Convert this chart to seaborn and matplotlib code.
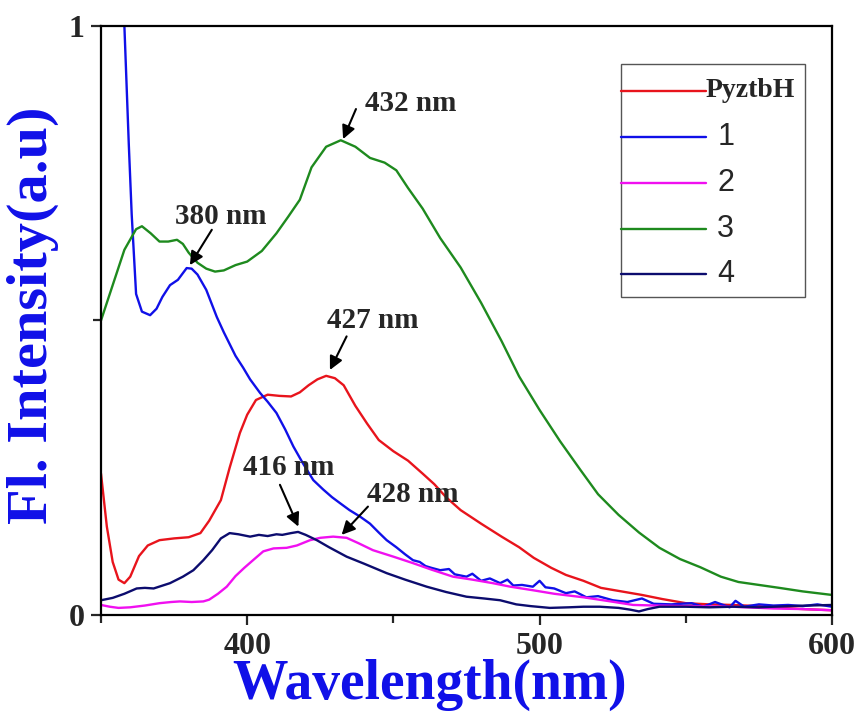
import numpy as np
import pandas as pd
import matplotlib
matplotlib.use("Agg")
import matplotlib.pyplot as plt
import seaborn as sns
from matplotlib.patches import Rectangle

# ---------------- data ----------------
labels = ["PyztbH", "1", "2", "3", "4"]
colors = ["#e8141c", "#1010e8", "#f010f0", "#1e8a1e", "#0c0c6e"]

w_pyz = [350, 352, 354, 356, 358, 360, 363, 366, 370, 375, 380, 384, 387, 391, 394, 397.5, 400, 403, 407,
         411, 415, 418, 421, 424, 427, 430, 433, 437, 441, 445, 450, 455, 460, 464, 468, 473, 480, 487, 493,
         498, 504, 509, 515, 521, 528, 535, 542, 550, 558, 566, 575, 583, 590, 600]
i_pyz = [0.24, 0.15, 0.09, 0.06, 0.054, 0.065, 0.10, 0.118, 0.127, 0.130, 0.132, 0.139, 0.160, 0.195, 0.25,
         0.309, 0.340, 0.365, 0.374, 0.372, 0.371, 0.378, 0.390, 0.400, 0.406, 0.402, 0.390, 0.355, 0.325,
         0.297, 0.278, 0.262, 0.240, 0.222, 0.200, 0.178, 0.155, 0.133, 0.115, 0.097, 0.080, 0.068, 0.058,
         0.046, 0.040, 0.034, 0.027, 0.020, 0.018, 0.017, 0.015, 0.012, 0.010, 0.008]

w_c1 = [356, 358, 359.5, 360.5, 362, 364, 366.8, 369, 371, 373.6, 376.3, 379.3, 381, 383, 386, 389.6, 392,
        394, 396, 398.6, 401, 404.4, 407, 410, 413, 415.8, 419, 422.6, 426, 429, 431.7, 435, 438.6, 442,
        445, 447.7, 451, 454, 456.7, 459, 461, 463, 466, 469, 471, 475, 477, 480, 483, 486.5, 489, 491,
        494, 497.7, 500, 502, 505, 509, 512, 516, 520, 525, 530, 535, 539, 545, 552, 556, 560, 565, 567,
        570, 575, 580, 585, 590, 595, 600]
i_c1 = [1.20, 1.00, 0.80, 0.68, 0.545, 0.515, 0.509, 0.520, 0.540, 0.560, 0.569, 0.589, 0.588, 0.578,
        0.552, 0.506, 0.480, 0.460, 0.440, 0.420, 0.400, 0.377, 0.362, 0.343, 0.315, 0.286, 0.258, 0.229,
        0.213, 0.200, 0.190, 0.178, 0.167, 0.155, 0.140, 0.127, 0.115, 0.103, 0.093, 0.090, 0.083, 0.080,
        0.076, 0.078, 0.069, 0.065, 0.070, 0.058, 0.062, 0.054, 0.060, 0.050, 0.051, 0.048, 0.058, 0.047,
        0.045, 0.037, 0.040, 0.030, 0.032, 0.025, 0.022, 0.028, 0.019, 0.018, 0.020, 0.014, 0.022, 0.013,
        0.024, 0.014, 0.018, 0.016, 0.017, 0.015, 0.018, 0.014]

w_c2 = [350, 353, 356, 360, 365, 370, 374, 377, 381, 385, 387, 390, 393, 396, 399, 402, 405.5, 409, 413.5,
        417, 421.5, 425, 429.4, 434, 438, 443, 450, 456.7, 463, 470.4, 477, 484, 490, 497.7, 505, 515, 523,
        532, 540, 550, 566, 580, 590, 600]
i_c2 = [0.017, 0.014, 0.012, 0.013, 0.016, 0.020, 0.022, 0.023, 0.022, 0.023, 0.026, 0.036, 0.048, 0.066,
        0.080, 0.093, 0.108, 0.113, 0.114, 0.118, 0.127, 0.131, 0.133, 0.131, 0.122, 0.110, 0.099, 0.088,
        0.077, 0.065, 0.060, 0.054, 0.048, 0.042, 0.036, 0.030, 0.024, 0.017, 0.016, 0.015, 0.014, 0.011,
        0.010, 0.008]

w_c3 = [350, 354, 358, 362, 364, 367, 370, 373, 376, 378, 380, 383, 386, 389, 392, 396, 400, 405, 410, 414,
        418, 422, 427, 432, 437, 442, 447, 451, 455, 460, 466, 473, 480, 487, 493, 500, 507, 514, 520, 527,
        534, 541, 548, 555, 562, 568, 575, 582, 590, 600]
i_c3 = [0.500, 0.560, 0.620, 0.655, 0.660, 0.648, 0.634, 0.634, 0.637, 0.630, 0.615, 0.598, 0.588, 0.583,
        0.585, 0.594, 0.600, 0.618, 0.648, 0.676, 0.705, 0.760, 0.795, 0.806, 0.795, 0.776, 0.768, 0.755,
        0.725, 0.690, 0.640, 0.590, 0.530, 0.465, 0.405, 0.348, 0.295, 0.246, 0.205, 0.170, 0.140, 0.114,
        0.095, 0.081, 0.065, 0.056, 0.051, 0.046, 0.040, 0.034]

w_c4 = [350, 354, 358, 362.2, 365, 368, 373.6, 378, 381.6, 385, 388, 391, 394, 397, 401, 404, 407, 410, 412,
        415, 417.4, 420, 423.8, 428, 434, 440, 447.7, 454, 461.4, 468, 475, 481, 486.5, 492, 497, 503.5, 510,
        515, 520.6, 527, 531, 534, 537, 541, 550, 558, 566, 575, 585, 592, 600]
i_c4 = [0.025, 0.029, 0.036, 0.045, 0.046, 0.045, 0.054, 0.065, 0.076, 0.093, 0.110, 0.130, 0.139, 0.137,
        0.133, 0.136, 0.134, 0.137, 0.136, 0.139, 0.141, 0.136, 0.127, 0.115, 0.099, 0.087, 0.071, 0.060,
        0.048, 0.039, 0.031, 0.028, 0.025, 0.018, 0.015, 0.012, 0.013, 0.014, 0.014, 0.012, 0.009, 0.006,
        0.010, 0.014, 0.014, 0.013, 0.014, 0.013, 0.015, 0.016, 0.017]

peak_labels = ["432 nm", "380 nm", "427 nm", "416 nm", "428 nm"]
peak_text_xy = [(440.3, 0.869), (375.3, 0.677), (427.4, 0.500), (398.6, 0.251), (440.9, 0.205)]
peak_tail_xy = [(437.2, 0.859), (387.9, 0.654), (434.0, 0.473), (411.2, 0.221), (441.3, 0.184)]
peak_head_xy = [(432.8, 0.808), (380.4, 0.594), (428.3, 0.416), (417.5, 0.150), (432.3, 0.136)]

xticks_major = [400, 500, 600]
xticks_minor = [350, 450, 550]
yticks_major = [0, 1]
yticks_minor = [0.5]

# ---------------- build long table ----------------
frames = []
for lab, w, v in zip(labels, [w_pyz, w_c1, w_c2, w_c3, w_c4], [i_pyz, i_c1, i_c2, i_c3, i_c4]):
    frames.append(pd.DataFrame({"wl": w, "I": v, "sample": lab}))
df = pd.concat(frames, ignore_index=True)

sns.set_style("ticks")
plt.rcParams["font.family"] = ["Liberation Serif", "DejaVu Serif"]
plt.rcParams["font.weight"] = "bold"

fig = plt.figure(figsize=(8.61, 7.18), dpi=100)
ax = fig.add_axes([0.1173, 0.1435, 0.849, 0.8203])

sns.lineplot(data=df, x="wl", y="I", hue="sample", hue_order=labels,
             palette=dict(zip(labels, colors)), sort=False, estimator=None,
             linewidth=1.7, ax=ax, legend=False)

ax.set_xlim(350, 600)
ax.set_ylim(0, 1)
ax.set_xticks(xticks_major)
ax.set_xticks(xticks_minor, minor=True)
ax.set_yticks(yticks_major)
ax.set_yticks(yticks_minor, minor=True)
ax.set_xticklabels([str(t) for t in xticks_major])
ax.set_yticklabels([str(t) for t in yticks_major])
ax.tick_params(axis="both", which="major", direction="out", length=7, width=1.6,
               labelsize=23, pad=5)
ax.tick_params(axis="both", which="minor", direction="out", length=6, width=1.6)
for lab in ax.get_xticklabels() + ax.get_yticklabels():
    lab.set_fontweight("bold")
for s in ax.spines.values():
    s.set_visible(True)
    s.set_linewidth(1.6)
    s.set_color("black")

ax.set_xlabel("Wavelength(nm)", fontsize=40, fontweight="bold", color="#1010e8", va="top")
ax.xaxis.set_label_coords(0.45, -0.074)
ax.set_ylabel("Fl. Intensity(a.u)", fontsize=42, fontweight="bold", color="#1010e8")
ax.yaxis.set_label_coords(-0.058, 0.509)

# peak annotations
for txt, txy, tail, head in zip(peak_labels, peak_text_xy, peak_tail_xy, peak_head_xy):
    ax.text(txy[0], txy[1], txt, fontsize=21, fontweight="bold", ha="left", va="center")
    ax.annotate("", xy=head, xytext=tail,
                arrowprops=dict(arrowstyle="-|>", color="black", lw=1.5, mutation_scale=20,
                                shrinkA=0, shrinkB=0))

# legend box (drawn as in the reference)
ax.add_patch(Rectangle((0.711, 0.540), 0.252, 0.3955, transform=ax.transAxes,
                       facecolor="white", edgecolor="#555555", lw=1.0, zorder=5))
leg_y = [0.890, 0.812, 0.734, 0.655, 0.579]
for i, (lab, col) in enumerate(zip(labels, colors)):
    ax.plot([0.711, 0.827], [leg_y[i], leg_y[i]], color=col, lw=1.7,
            transform=ax.transAxes, zorder=6)
    if i == 0:
        ax.text(0.827, leg_y[i], lab, transform=ax.transAxes, fontsize=20, fontweight="bold",
                ha="left", va="center", zorder=6)
    else:
        ax.text(0.843, leg_y[i], lab, transform=ax.transAxes, fontsize=22, fontweight="normal",
                family=["Liberation Sans", "DejaVu Sans"], ha="left", va="center", zorder=6)

fig.savefig("out.png", dpi=100)
